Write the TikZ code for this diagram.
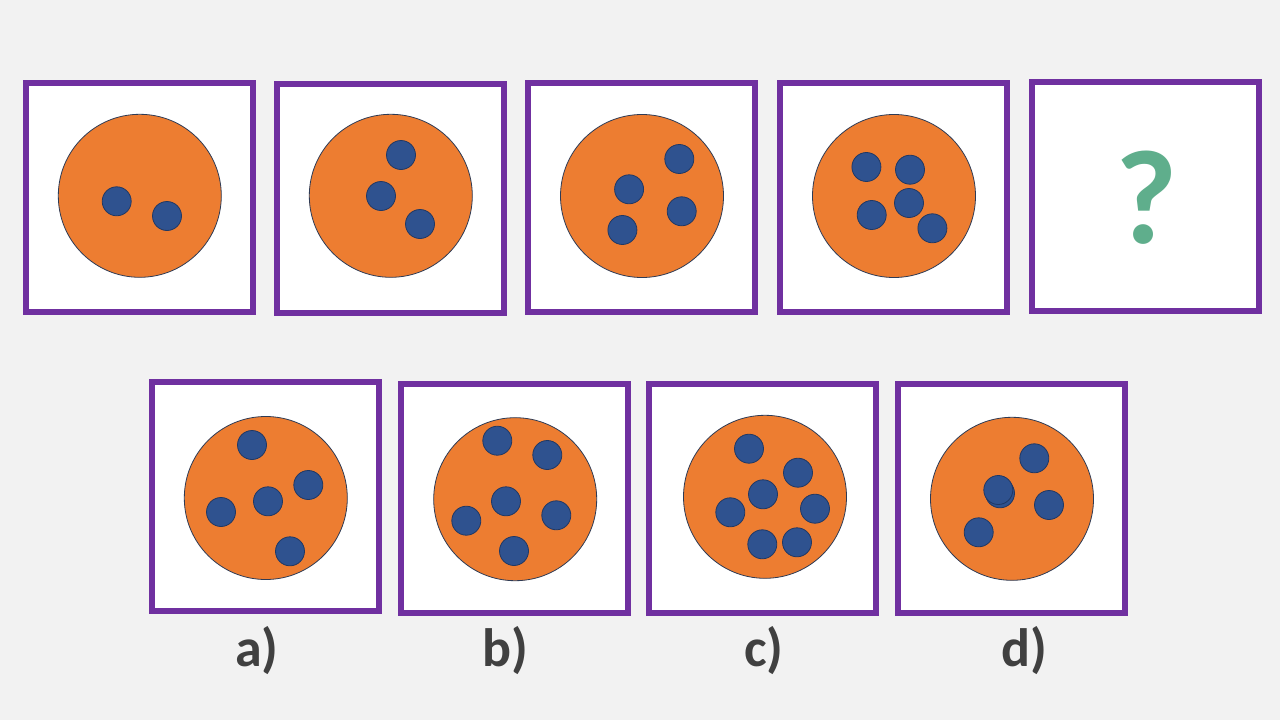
\documentclass[tikz,border=0pt]{standalone}
\usepackage{fontspec}
\setmainfont{Carlito}
\definecolor{bgc}{HTML}{F2F2F2}
\definecolor{frame}{HTML}{7030A0}
\definecolor{orng}{HTML}{ED7D31}
\definecolor{rim}{HTML}{2E3B55}
\definecolor{dotfill}{HTML}{2F528F}
\definecolor{dotrim}{HTML}{203864}
\definecolor{qgreen}{HTML}{5FAE8C}
\definecolor{lbl}{HTML}{404040}
\tikzset{
  card/.style={draw=frame, line width=6pt, fill=white, rectangle, minimum width=227pt, minimum height=229pt, inner sep=0pt},
  bigdisc/.style={circle, draw=rim, line width=0.8pt, fill=orng, minimum size=163pt, inner sep=0pt},
  spot/.style={circle, draw=dotrim, line width=0.8pt, fill=dotfill, minimum size=29pt, inner sep=0pt},
  answerlbl/.style={text=lbl, font=\fontsize{54}{60}\selectfont\bfseries, inner sep=0pt}
}
\begin{document}
\begin{tikzpicture}[x=1pt,y=-1pt]
\fill[bgc] (0,0) rectangle (1280,720);
\useasboundingbox (0,0) rectangle (1280,720);
% top row
\node[card] (t1) at (139.7,197.3) {};
\node[card] (t2) at (390.5,198.2) {};
\node[card] (t3) at (641.5,197.3) {};
\node[card] (t4) at (893.7,197.3) {};
\node[card] (t5) at (1145.6,196.3) {};
\node[bigdisc] (d1) at (139.8,195.8) {};
\node[bigdisc] (d2) at (390.8,195.8) {};
\node[bigdisc] (d3) at (642,196) {};
\node[bigdisc] (d4) at (894,196) {};
\node[spot] (s11) at (116.7,201.3) {};
\node[spot] (s12) at (167,216) {};
\node[spot] (s21) at (401,155) {};
\node[spot] (s22) at (381,196) {};
\node[spot] (s23) at (420,224) {};
\node[spot] (s31) at (679.3,159) {};
\node[spot] (s32) at (629.1,189.3) {};
\node[spot] (s33) at (681.7,211.3) {};
\node[spot] (s34) at (622.4,230) {};
\node[spot] (s41) at (866.4,167) {};
\node[spot] (s42) at (910,169.7) {};
\node[spot] (s43) at (909,203) {};
\node[spot] (s44) at (871.7,215) {};
\node[spot] (s45) at (932.4,228.3) {};
\node[text=qgreen, font=\fontsize{134}{140}\selectfont\bfseries, inner sep=0pt] (q) at (1147,198) {?};
% bottom row
\node[card] (ba) at (265.5,496.5) {};
\node[card] (bb) at (514.5,498.3) {};
\node[card] (bc) at (762.5,498.3) {};
\node[card] (bd) at (1011.5,498.3) {};
\node[bigdisc] (da) at (265.8,498) {};
\node[bigdisc] (db) at (515.2,499.2) {};
\node[bigdisc] (dc) at (765,496.8) {};
\node[bigdisc] (dd) at (1012,498.8) {};
\node[spot] (a1) at (252,445) {};
\node[spot] (a2) at (308.3,485) {};
\node[spot] (a3) at (268,501.3) {};
\node[spot] (a4) at (221,512) {};
\node[spot] (a5) at (290,551.3) {};
\node[spot] (b1) at (497.3,440.7) {};
\node[spot] (b2) at (547.3,455) {};
\node[spot] (b3) at (506,501.3) {};
\node[spot] (b4) at (466.3,520.7) {};
\node[spot] (b5) at (556.3,515.3) {};
\node[spot] (b6) at (514,551) {};
\node[spot] (c1) at (749,448.7) {};
\node[spot] (c2) at (798,472.7) {};
\node[spot] (c3) at (763,494.3) {};
\node[spot] (c4) at (730.3,512.3) {};
\node[spot] (c5) at (815,508.7) {};
\node[spot] (c6) at (762.3,544.3) {};
\node[spot] (c7) at (797,542.3) {};
\node[spot] (e1) at (1034.3,458.3) {};
\node[spot] (e2) at (1000,493.3) {};
\node[spot] (e3) at (998.3,490) {};
\node[spot] (e4) at (1049,505) {};
\node[spot] (e5) at (978.7,532.3) {};
% labels
\node[answerlbl] (la) at (257,651) {a)};
\node[answerlbl] (lb) at (505,651) {b)};
\node[answerlbl] (lc) at (764,651) {c)};
\node[answerlbl] (ld) at (1024,651) {d)};
\end{tikzpicture}
\end{document}
